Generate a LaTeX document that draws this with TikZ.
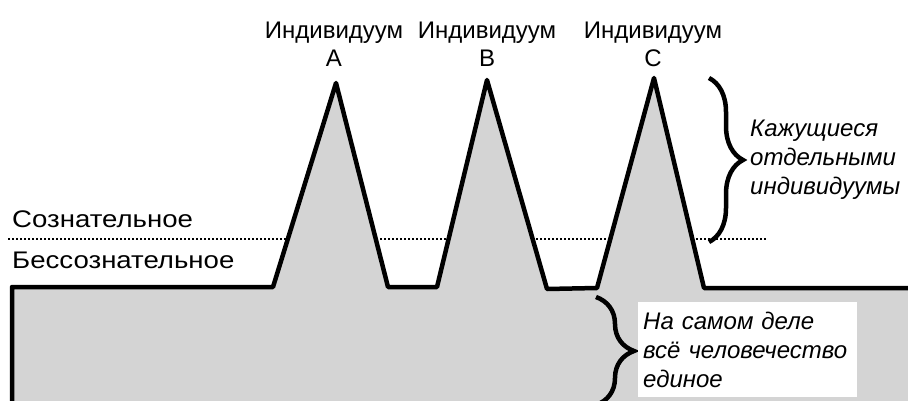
\documentclass[tikz,border=0pt]{standalone}
\usepackage{fontspec}
\setmainfont{Liberation Sans}
\newfontfamily\widefont[FakeStretch=1.15]{Liberation Sans}
\usetikzlibrary{decorations.pathreplacing}
\tikzset{
  relief/.style={line width=4.5pt,line join=round,fill=black!17},
  bracket/.style={line width=4.5pt,decorate,decoration={brace,amplitude=#1}},
  level/.style={dash pattern=on 1.5pt off 2.5pt,line width=1.5pt},
  lbl/.style={inner sep=0pt,font=\fontsize{24}{28}\selectfont},
  note/.style={inner sep=0pt,align=left,font=\fontsize{24}{29}\selectfont\itshape}
}
\begin{document}
\begin{tikzpicture}[x=1pt,y=-1pt]
\useasboundingbox (0,0) rectangle (908,401);
\begin{scope}
\clip (0,0) rectangle (908,401);
% border between the two levels
\coordinate (sl) at (8,239);
\coordinate (sr) at (766,239);
\draw[level] (sl) -- (sr);
% peaks over the common ground
\coordinate (pA) at (336,83);
\coordinate (pB) at (487,80);
\coordinate (pC) at (654,78);
\draw[relief] (12,420) -- (12,287) -- (273,287) -- (pA) -- (388,287) -- (437,287) -- (pB) -- (547,289) -- (597,288) -- (pC) -- (704,288) -- (920,288) -- (920,420) -- cycle;
% lower brace
\coordinate (lt) at (596,297);
\coordinate (lb) at (596,405);
\draw[bracket=38pt] (lt) -- (lb);
\end{scope}
\foreach \n/\x in {A/334,B/487,C/653} \node[lbl,align=center,anchor=north] (ind\n) at (\x,22) {Индивидуум\\\n};
\node[lbl,font=\fontsize{24}{28}\widefont,anchor=base west] (soz) at (12,227) {Сознательное};
\node[lbl,font=\fontsize{24}{28}\widefont,anchor=base west] (bes) at (12,268) {Бессознательное};
% upper brace
\coordinate (ut) at (709,78);
\coordinate (ub) at (709,242);
\draw[bracket=34pt] (ut) -- (ub);
\node[note,anchor=north west] (seem) at (750,120) {Кажущиеся\\отдельными\\индивидуумы};
\node[note,fill=white,anchor=north west,inner xsep=5pt,inner ysep=8pt,text width=209pt,minimum height=95pt] (one) at (638,302) {На самом деле\\всё человечество\\единое};
\end{tikzpicture}
\end{document}
